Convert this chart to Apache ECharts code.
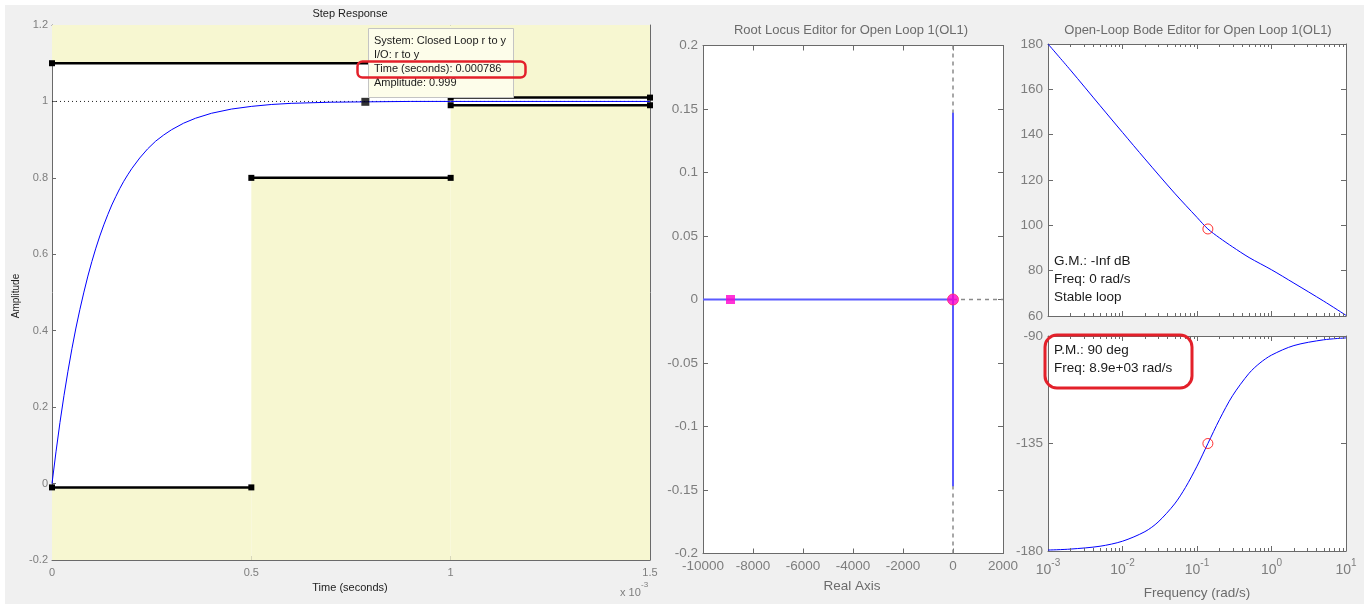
<!DOCTYPE html>
<html><head><meta charset="utf-8">
<script src="https://cdn.jsdelivr.net/npm/echarts@6/dist/echarts.min.js"></script>
<style>html,body{margin:0;padding:0;background:#fff}#c{width:1364px;height:604px}</style>
</head><body><div id="c"></div><script>
// ---------- Step response (time in units of 1e-3 s) ----------
const stepTime = [0,0.01,0.02,0.03,0.04,0.05,0.06,0.07,0.08,0.09,0.1,0.11,0.12,0.13,0.14,0.15,0.16,0.17,0.18,0.19,0.2,0.22,0.24,0.26,0.28,0.3,0.33,0.36,0.4,0.45,0.5,0.55,0.6,0.7,0.8,0.9,1.0,1.5];
const stepAmp  = [0,0.083,0.160,0.230,0.294,0.353,0.407,0.456,0.501,0.543,0.581,0.616,0.648,0.677,0.704,0.729,0.751,0.772,0.791,0.808,0.824,0.852,0.876,0.896,0.912,0.926,0.943,0.956,0.969,0.980,0.987,0.992,0.995,0.998,0.999,1.0,1.0,1.0];
const upperBounds = [[0,1.0,1.1],[1.0,1.5,1.01]];            // [tStart, tEnd, level]
const lowerBounds = [[0,0.5,-0.01],[0.5,1.0,0.8],[1.0,1.5,0.99]];
const steadyState = 1;
const cursorPoint = [0.786, 0.999];
const tooltipLines = ['System: Closed Loop r to y','I/O: r to y','Time (seconds): 0.000786','Amplitude: 0.999'];

// ---------- Root locus ----------
const locusRealBranch = [[-10000,0],[0,0]];
const locusImagBranch = [[0,-0.147],[0,0.147]];
const closedLoopPole = [-8900,0];
const openLoopPole = [0,0];

// ---------- Bode ----------
const magFreq = [0.001,0.002,0.005,0.01,0.02,0.05,0.1,0.14,0.2,0.3,0.5,1,2,5,10];
const magDb   = [180,168.5,152.8,141,129.3,114.2,103.5,98.4,94.5,90.5,85.8,80.4,74.5,66.6,60.3];
const phaseFreq = [0.001,0.002,0.005,0.01,0.02,0.03,0.05,0.07,0.1,0.14,0.2,0.3,0.5,0.7,1,2,5,10];
const phaseDeg  = [-179.6,-179.2,-178.0,-175.9,-171.9,-167.9,-160.3,-153.4,-144.5,-135,-125.0,-115.0,-105.6,-101.3,-98.0,-94.0,-91.6,-90.8];
const magMarker = [0.14, 98.4];
const phaseMarker = [0.14, -135];
const gmLines = ['G.M.: -Inf dB','Freq: 0 rad/s','Stable loop'];
const pmLines = ['P.M.: 90 deg','Freq: 8.9e+03 rad/s'];

// ---------- build ----------
const FONT = '"Liberation Sans", Arial, sans-serif';
const LG = '#7d7d7d';
const FRAME = '#6a6a6a';
const zip = (a,b)=>a.map((v,i)=>[v,b[i]]);
const plain = v=>String(Math.round(v*1e6)/1e6);

const minorVals = [];
for (let k=-3;k<=0;k++) for (let m=2;m<=9;m++) minorVals.push([Number((m*Math.pow(10,k)).toPrecision(3)), 0]);

function xAx(gi, pos, extra){
  return Object.assign({gridIndex:gi, position:pos, splitLine:{show:false},
    axisLine:{show:true,onZero:false,lineStyle:{color:FRAME,width:1}},
    axisTick:{show:true,inside:true,length:5,lineStyle:{color:FRAME}},
    axisLabel:{show:pos==='bottom',color:LG,fontFamily:FONT,fontSize:13.5,margin:6,formatter:plain}}, extra);
}
function yAx(gi, pos, extra){
  return Object.assign({gridIndex:gi, position:pos, type:'value', splitLine:{show:false},
    axisLine:{show:true,onZero:false,lineStyle:{color:FRAME,width:1}},
    axisTick:{show:true,inside:true,length:5,lineStyle:{color:FRAME}},
    axisLabel:{show:pos==='left',color:LG,fontFamily:FONT,fontSize:13.5,margin:5,formatter:plain}}, extra);
}
const logLabel = {show:true,color:LG,fontFamily:FONT,margin:4,
  formatter:v=>'{b|10}{s|'+Math.round(Math.log10(v))+'}',
  rich:{b:{fontSize:14,fontFamily:FONT,color:LG,padding:[8,0,0,0]},s:{fontSize:10,fontFamily:FONT,color:LG,padding:[0,0,6,0]}}};

const stepLbl = {color:LG,fontFamily:FONT,fontSize:11,formatter:plain};
const xAxis = [
  xAx(0,'bottom',{type:'value',min:0,max:1.5,interval:0.5,axisTick:{show:true,inside:true,length:4,lineStyle:{color:FRAME}},axisLabel:Object.assign({margin:7},stepLbl)}),
  xAx(0,'top',{type:'value',min:0,max:1.5,interval:0.5,axisTick:{show:false}}),
  xAx(1,'bottom',{type:'value',min:-10000,max:2000,interval:2000}),
  xAx(1,'top',{type:'value',min:-10000,max:2000,interval:2000}),
  xAx(2,'bottom',{type:'log',logBase:10,min:0.001,max:10,splitNumber:4,axisLabel:{show:false}}),
  xAx(2,'top',{type:'log',logBase:10,min:0.001,max:10,splitNumber:4}),
  xAx(3,'bottom',{type:'log',logBase:10,min:0.001,max:10,splitNumber:4,axisLabel:logLabel}),
  xAx(3,'top',{type:'log',logBase:10,min:0.001,max:10,splitNumber:4})
];
const yAxis = [
  yAx(0,'left',{min:-0.2,max:1.2,interval:0.2,axisTick:{show:true,inside:true,length:4,lineStyle:{color:FRAME}},axisLabel:Object.assign({margin:4},stepLbl)}),
  yAx(0,'right',{min:-0.2,max:1.2,interval:0.2,axisTick:{show:false}}),
  yAx(1,'left',{min:-0.2,max:0.2,interval:0.05}),
  yAx(1,'right',{min:-0.2,max:0.2,interval:0.05}),
  yAx(2,'left',{min:60,max:180,interval:20}),
  yAx(2,'right',{min:60,max:180,interval:20}),
  yAx(3,'left',{min:-180,max:-90,interval:45}),
  yAx(3,'right',{min:-180,max:-90,interval:45})
];

// yellow constraint regions
const regions = [];
upperBounds.forEach(b=>regions.push([b[0],b[2],b[1],1.2]));
lowerBounds.forEach(b=>regions.push([b[0],-0.2,b[1],b[2]]));

const series = [];
series.push({type:'custom',xAxisIndex:0,yAxisIndex:0,z:1,silent:true,data:regions,encode:{x:[0,2],y:[1,3]},
  renderItem:(p,api)=>{const a=api.coord([api.value(0),api.value(3)]);const b=api.coord([api.value(2),api.value(1)]);
    return {type:'rect',shape:{x:a[0],y:a[1],width:b[0]-a[0],height:b[1]-a[1]},style:{fill:'#f7f7d1'}};}});
series.push({type:'line',xAxisIndex:0,yAxisIndex:0,z:2,symbol:'none',data:[[0,steadyState],[1.5,steadyState]],
  lineStyle:{color:'#222',width:1,type:[1,3]}});
series.push({type:'line',xAxisIndex:0,yAxisIndex:0,z:3,symbol:'none',smooth:false,data:zip(stepTime,stepAmp),
  lineStyle:{color:'#0000ff',width:1}});
upperBounds.concat(lowerBounds).forEach(b=>{
  series.push({type:'line',xAxisIndex:0,yAxisIndex:0,z:4,symbol:'rect',symbolSize:6,showSymbol:true,clip:false,
    data:[[b[0],b[2]],[b[1],b[2]]],lineStyle:{color:'#000',width:2.5},itemStyle:{color:'#000'}});
});
series.push({type:'scatter',xAxisIndex:0,yAxisIndex:0,z:5,symbol:'rect',symbolSize:8,data:[cursorPoint],itemStyle:{color:'#000'}});

// root locus
series.push({type:'line',xAxisIndex:2,yAxisIndex:2,z:2,symbol:'none',data:[[0,-0.2],[0,0.2]],lineStyle:{color:'#8a8a8a',width:1.5,type:[4,4]}});
series.push({type:'line',xAxisIndex:2,yAxisIndex:2,z:2,symbol:'none',data:[[0,0],[2000,0]],lineStyle:{color:'#8a8a8a',width:1.5,type:[4,4]}});
series.push({type:'line',xAxisIndex:2,yAxisIndex:2,z:3,symbol:'none',data:locusRealBranch,lineStyle:{color:'#5a5aff',width:2}});
series.push({type:'line',xAxisIndex:2,yAxisIndex:2,z:3,symbol:'none',data:locusImagBranch,lineStyle:{color:'#5a5aff',width:2}});
series.push({type:'scatter',xAxisIndex:2,yAxisIndex:2,z:4,symbol:'rect',symbolSize:9,data:[closedLoopPole],itemStyle:{color:'#ff00cc'}});
series.push({type:'scatter',xAxisIndex:2,yAxisIndex:2,z:4,symbol:'circle',symbolSize:11,data:[openLoopPole],itemStyle:{color:'#ff00cc',borderColor:'#ff2a6a',borderWidth:1}});

// bode
series.push({type:'line',xAxisIndex:4,yAxisIndex:4,z:3,symbol:'none',smooth:0.3,data:zip(magFreq,magDb),lineStyle:{color:'#0000ff',width:1}});
series.push({type:'scatter',xAxisIndex:4,yAxisIndex:4,z:4,symbol:'circle',symbolSize:10,data:[magMarker],itemStyle:{color:'rgba(0,0,0,0)',borderColor:'#ff0000',borderWidth:1}});
series.push({type:'line',xAxisIndex:6,yAxisIndex:6,z:3,symbol:'none',smooth:0.3,data:zip(phaseFreq,phaseDeg),lineStyle:{color:'#0000ff',width:1}});
series.push({type:'scatter',xAxisIndex:6,yAxisIndex:6,z:4,symbol:'circle',symbolSize:10,data:[phaseMarker],itemStyle:{color:'rgba(0,0,0,0)',borderColor:'#ff0000',borderWidth:1}});
[[4,4,120],[6,6,-135]].forEach(([xi,yi,yref])=>{
  series.push({type:'custom',xAxisIndex:xi,yAxisIndex:yi,z:5,silent:true,clip:false,data:minorVals.map(v=>[v[0],yref]),encode:{x:0,y:1},
    renderItem:(p,api)=>{const c=api.coord([api.value(0),api.value(1)]);const cs=p.coordSys;const x=Math.round(c[0])+0.5;
      return {type:'group',children:[
        {type:'line',shape:{x1:x,y1:cs.y,x2:x,y2:cs.y+3},style:{stroke:FRAME,lineWidth:1}},
        {type:'line',shape:{x1:x,y1:cs.y+cs.height,x2:x,y2:cs.y+cs.height-3},style:{stroke:FRAME,lineWidth:1}}]};}});
});

// graphics
const T = (x,y,text,font,fill,align,extra)=>Object.assign({type:'text',x:x,y:y,z:100,silent:true,
  style:{text:text,font:font,fill:fill,align:align||'left',verticalAlign:'middle'}},extra||{});
const graphic = [
  {type:'rect',z:-10,silent:true,shape:{x:5,y:5,width:1359,height:599},style:{fill:'#f0f0f0'}},
  T(350,13.5,'Step Response','11px '+FONT,'#222','center'),
  T(16,296,'Amplitude','10px '+FONT,'#222','center',{rotation:Math.PI/2}),
  T(350,588,'Time (seconds)','11px '+FONT,'#222','center'),
  T(620,593,'x 10','11px '+FONT,LG,'left'),
  T(641,585,'-3','8px '+FONT,LG,'left'),
  {type:'rect',z:90,silent:true,shape:{x:368.5,y:28.5,width:145,height:69},style:{fill:'#fdfdea',stroke:'#c4c4c4',lineWidth:1}},
  ...tooltipLines.map((t,i)=>T(374,41+i*14,t,'11px '+FONT,'#1a1a1a','left')),
  {type:'rect',z:101,silent:true,shape:{x:357.5,y:61.5,width:168,height:16,r:5},style:{fill:null,stroke:'#e3202a',lineWidth:2.5}},
  T(851,30,'Root Locus Editor for Open Loop 1(OL1)','13px '+FONT,'#6b6b6b','center'),
  T(852,586,'Real Axis','13.5px '+FONT,'#6b6b6b','center'),
  T(1198,30,'Open-Loop Bode Editor for Open Loop 1(OL1)','13px '+FONT,'#6b6b6b','center'),
  T(1197,593,'Frequency (rad/s)','13.5px '+FONT,'#6b6b6b','center'),
  ...gmLines.map((t,i)=>T(1054,261+i*18,t,'13.5px '+FONT,'#1a1a1a','left')),
  ...pmLines.map((t,i)=>T(1054,350+i*18,t,'13.5px '+FONT,'#1a1a1a','left')),
  {type:'rect',z:101,silent:true,shape:{x:1045,y:335,width:147,height:53,r:12},style:{fill:null,stroke:'#e3202a',lineWidth:3}}
];

const grids = [
  {left:52, top:25, width:598, height:535},
  {left:703, top:45.5, width:300, height:508},
  {left:1048, top:44, width:298, height:272},
  {left:1048, top:336, width:298, height:215}
].map(g=>Object.assign(g,{show:true,backgroundColor:'#ffffff',borderWidth:0,containLabel:false,outerBoundsMode:'none'}));

const chart = echarts.init(document.getElementById('c'));
chart.setOption({animation:false,backgroundColor:'#ffffff',grid:grids,xAxis:xAxis,yAxis:yAxis,series:series,graphic:graphic});
</script></body></html>
